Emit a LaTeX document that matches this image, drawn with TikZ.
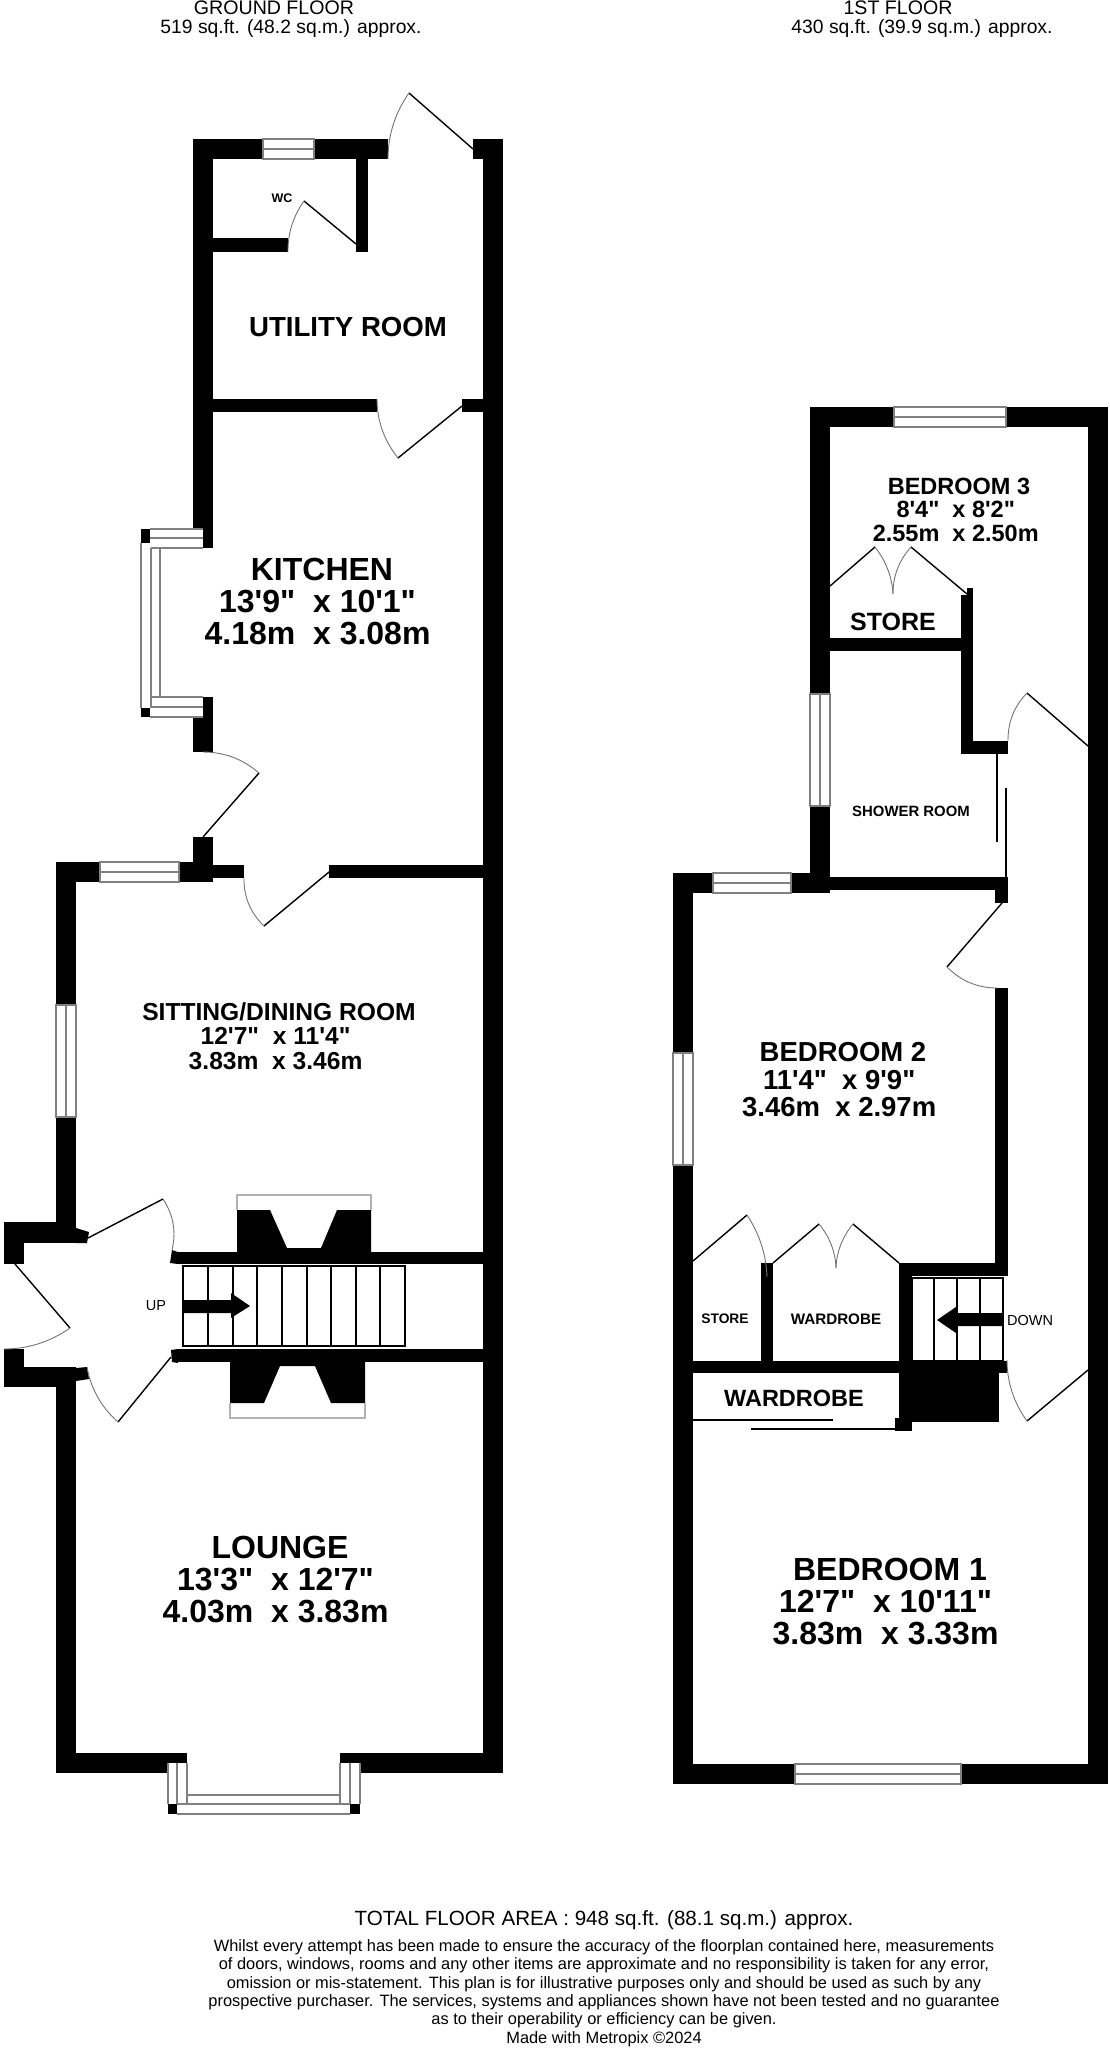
\documentclass[tikz,border=0pt]{standalone}
\usepackage{fontspec}
\setmainfont[Ligatures=TeXOff]{Liberation Sans}
\usetikzlibrary{calc}

% one door: hinge, leaf tip, end of the swing
\newcommand{\doorswing}[3]{%
  \draw[doorleaf] (#1) -- (#2);
  \coordinate (swing) at ($(#1) + .57*(#2) - .57*(#1) + .57*(#3) - .57*(#1)$);
  \draw[doorarc] (#2) .. controls ($(#2)!.667!(swing)$) and ($(#3)!.667!(swing)$) .. (#3);
}

\begin{document}
\begin{tikzpicture}[x=1pt,y=-1pt,
    wall/.style={fill=black},
    glass/.style={draw=black!50,line width=1.1pt},
    doorleaf/.style={draw=black,line width=1.4pt},
    doorarc/.style={draw=black!55,line width=.9pt},
    thinline/.style={draw=black,line width=1.1pt},
    room/.style={align=center,inner sep=0pt,font=\bfseries\fontsize{#1}{#1}\selectfont},
    plain/.style={align=center,inner sep=0pt,font=\fontsize{#1}{#1}\selectfont}]
  \useasboundingbox (0,0) rectangle (1110,2048);

  % Headings
  \node[plain=19.6] (groundname) at (274,8) {GROUND FLOOR};
  \node[plain=19.3] (groundarea) at (291,29) {519 sq.ft. (48.2 sq.m.) approx.};
  \node[plain=19.6] (firstname) at (898,8) {1ST FLOOR};
  \node[plain=19.3] (firstarea) at (922,29) {430 sq.ft. (39.9 sq.m.) approx.};

  % Ground floor, outer walls
  \fill[wall] (483,139) rectangle (503,1773);
  \fill[wall] (193,139) rectangle (263,159);
  \fill[wall] (314,139) rectangle (388,159);
  \fill[wall] (473,139) rectangle (483,159);
  \fill[wall] (193,139) rectangle (213,529);
  \fill[wall] (203,529) rectangle (213,548);
  \fill[wall] (203,697) rectangle (213,717);
  \fill[wall] (193,717) rectangle (213,752);
  \fill[wall] (193,837) rectangle (213,882);
  \fill[wall] (179,862) rectangle (213,882);
  \fill[wall] (56,862) rectangle (100,882);
  \fill[wall] (56,862) rectangle (76,1005);
  \fill[wall] (56,1117) rectangle (76,1243);
  \fill[wall] (56,1367) rectangle (76,1773);
  \fill[wall] (56,1753) rectangle (167,1773);
  \fill[wall] (167,1753) rectangle (187,1763);
  \fill[wall] (340,1753) rectangle (360,1763);
  \fill[wall] (360,1753) rectangle (503,1773);
  % Ground floor, inner walls
  \fill[wall] (356,159) rectangle (368,252);
  \fill[wall] (213,238) rectangle (288,252);
  \fill[wall] (213,399) rectangle (377,412);
  \fill[wall] (462,399) rectangle (483,412);
  \fill[wall] (213,865) rectangle (244,878);
  \fill[wall] (329,865) rectangle (483,878);
  % Porch
  \fill[wall] (4,1222) rectangle (76,1243);
  \fill[wall] (4,1222) rectangle (24,1264);
  \fill[wall] (4,1367) rectangle (76,1387);
  \fill[wall] (4,1349) rectangle (24,1387);
  \fill[wall] (76,1228) -- (89,1232) -- (87,1243) -- (76,1243) -- cycle;
  \fill[wall] (76,1368) -- (87,1367) -- (89,1379) -- (76,1381) -- cycle;
  \fill[wall] (172,1250) -- (178,1252) -- (178,1264) -- (170,1263) -- cycle;
  \fill[wall] (171,1350) -- (178,1349) -- (178,1363) -- (172,1362) -- cycle;
  % Stair walls and chimney breasts
  \fill[wall] (178,1252) rectangle (483,1264);
  \fill[wall] (178,1349) rectangle (483,1362);
  \fill[wall] (237,1210) -- (270,1210) -- (287,1248) -- (321,1248) -- (337,1210) -- (371,1210) -- (371,1252) -- (237,1252) -- cycle;
  \draw[glass,draw=black!30] (237,1210) -- (237,1195) -- (371,1195) -- (371,1210);
  \fill[wall] (230,1362) -- (365,1362) -- (365,1403) -- (331,1403) -- (315,1366) -- (280,1366) -- (264,1403) -- (230,1403) -- cycle;
  \draw[glass,draw=black!30] (230,1403) -- (230,1418) -- (365,1418) -- (365,1403);

  % Ground floor, windows
  \draw[glass] (263,139) rectangle (314,159) (263,149) -- (314,149);
  \draw[glass] (100,862) rectangle (179,882) (100,872) -- (179,872);
  \draw[glass] (56,1005) rectangle (76,1117) (66,1005) -- (66,1117);
  % Kitchen bay
  \fill[wall] (141,529) rectangle (150,543);
  \fill[wall] (141,708) rectangle (150,717);
  \draw[glass] (150,529) -- (203,529) (150,538) -- (203,538) (151,548) -- (203,548);
  \draw[glass] (151,697) -- (203,697) (150,707) -- (203,707) (150,717) -- (203,717);
  \draw[glass] (141,543) -- (141,708) (151,548) -- (151,707) (160,548) -- (160,697);
  % Lounge bay
  \fill[wall] (168,1804) rectangle (177,1814);
  \fill[wall] (350,1804) rectangle (360,1814);
  \draw[glass] (168,1763) -- (168,1804) (177,1763) -- (177,1804) (187,1763) -- (187,1804);
  \draw[glass] (340,1763) -- (340,1804) (350,1763) -- (350,1804) (360,1763) -- (360,1804);
  \draw[glass] (187,1795) -- (340,1795) (177,1804) -- (350,1804) (177,1814) -- (350,1814);

  % Ground floor, doors
  \doorswing{473,149}{409,93}{388,159}
  \doorswing{356,244}{304,201}{288,252}
  \doorswing{462,406}{398,458}{377,399}
  \doorswing{203,837}{259,773}{203,752}
  \doorswing{329,872}{264,926}{244,878}
  \doorswing{88,1238}{163,1199}{172,1250}
  \doorswing{171,1357}{118,1422}{87,1367}
  \doorswing{15,1264}{70,1328}{4,1349}

  % Stairs up
  \draw[thinline] (183,1266) rectangle (405,1346);
  \foreach \tread in {208,233,257,282,307,331,356,380}
    \draw[thinline] (\tread,1266) -- (\tread,1346);
  \fill[wall] (183,1300) -- (231,1300) -- (231,1293) -- (250,1306) -- (231,1318) -- (231,1313) -- (183,1313) -- cycle;
  \node[plain=14.5] (uplabel) at (156,1306) {UP};

  % Ground floor, rooms
  \node[room=12.5] (wc) at (282,198) {WC};
  \node[room=27.6] (utility) at (348,327) {UTILITY ROOM};
  \node[room=32] (kitchen) at (322,601) {KITCHEN\\13'9"~~x 10'1"\kern.278em\\4.18m~~x 3.08m\kern.278em};
  \node[room=24.6] (sitting) at (279,1036) {SITTING/DINING ROOM\\12'7"~~x 11'4"\kern.278em\\3.83m~~x 3.46m\kern.278em};
  \node[room=32] (lounge) at (280,1579) {LOUNGE\\13'3"~~x 12'7"\kern.278em\\4.03m~~x 3.83m\kern.278em};

  % First floor, outer walls
  \fill[wall] (1088,407) rectangle (1108,1784);
  \fill[wall] (810,407) rectangle (894,427);
  \fill[wall] (1006,407) rectangle (1108,427);
  \fill[wall] (810,407) rectangle (830,694);
  \fill[wall] (810,806) rectangle (830,893);
  \fill[wall] (791,873) rectangle (830,893);
  \fill[wall] (673,873) rectangle (713,893);
  \fill[wall] (673,873) rectangle (693,1053);
  \fill[wall] (673,1165) rectangle (693,1784);
  \fill[wall] (673,1764) rectangle (795,1784);
  \fill[wall] (961,1764) rectangle (1108,1784);
  % First floor, inner walls
  \fill[wall] (830,638) rectangle (961,651);
  \fill[wall] (961,595) rectangle (973,754);
  \fill[wall] (967,588) rectangle (973,595);
  \fill[wall] (961,741) rectangle (1008,754);
  \fill[wall] (830,877) rectangle (1008,890);
  \fill[wall] (995,877) rectangle (1008,903);
  \fill[wall] (995,988) rectangle (1008,1276);
  \fill[wall] (899,1263) rectangle (1008,1276);
  \fill[wall] (899,1263) rectangle (912,1431);
  \fill[wall] (761,1263) rectangle (773,1361);
  \fill[wall] (693,1361) rectangle (1007,1373);
  \fill[wall] (899,1373) rectangle (999,1422);
  \fill[wall] (895,1418) rectangle (912,1431);

  % First floor, windows
  \draw[glass] (894,407) rectangle (1006,427) (894,417) -- (1006,417);
  \draw[glass] (810,694) rectangle (830,806) (820,694) -- (820,806);
  \draw[glass] (713,873) rectangle (791,893) (713,883) -- (791,883);
  \draw[glass] (673,1053) rectangle (693,1165) (683,1053) -- (683,1165);
  \draw[glass] (795,1764) rectangle (961,1784) (795,1774) -- (961,1774);

  % First floor, doors
  \doorswing{830,586}{875,547}{893,594}
  \doorswing{967,594}{911,547}{893,594}
  \doorswing{1088,746}{1027,693}{1008,741}
  \doorswing{1002,903}{947,967}{997,988}
  \doorswing{693,1261}{747,1215}{767,1277}
  \doorswing{773,1263}{819,1224}{836,1268}
  \doorswing{899,1263}{853,1224}{836,1268}
  \doorswing{1088,1370}{1027,1421}{1007,1360}
  % Sliding doors
  \draw[thinline] (997,754) -- (997,842);
  \draw[thinline] (1006,788) -- (1006,877);
  \draw[thinline] (693,1420) -- (833,1420);
  \draw[thinline] (751,1429) -- (895,1429);

  % Stairs down
  \draw[thinline] (912,1278) rectangle (1003,1361);
  \foreach \tread in {934,957,980}
    \draw[thinline] (\tread,1278) -- (\tread,1361);
  \fill[wall] (1003,1313) -- (956,1313) -- (956,1307) -- (937,1320) -- (956,1333) -- (956,1326) -- (1003,1326) -- cycle;
  \node[plain=14.5,anchor=west] (downlabel) at (1007,1320) {DOWN};

  % First floor, rooms
  \node[room=23.5] (bedroomthree) at (959,509.5) {BEDROOM 3\\8'4"~~x 8'2"\kern.278em\\2.55m~~x 2.50m\kern.278em};
  \node[room=25] (storeupper) at (893,622) {STORE};
  \node[room=14.9] (shower) at (911,811) {SHOWER ROOM};
  \node[room=27.5] (bedroomtwo) at (843,1080) {BEDROOM 2\\11'4"~~x 9'9"\kern.278em\\3.46m~~x 2.97m\kern.278em};
  \node[room=13.8] (storelower) at (725,1319) {STORE};
  \node[room=15.2] (wardrobesmall) at (836,1319) {WARDROBE};
  \node[room=23.5] (wardrobelarge) at (794,1398) {WARDROBE};
  \node[room=32] (bedroomone) at (890,1601) {BEDROOM 1\\12'7"~~x 10'11"\kern.278em\\3.83m~~x 3.33m\kern.278em};

  % Footer
  \node[plain=20.6] (totalarea) at (604,1920) {TOTAL FLOOR AREA : 948 sq.ft. (88.1 sq.m.) approx.};
  \node[align=center,inner sep=0pt,font=\fontsize{16.4}{18.3}\selectfont] (disclaimer) at (604,1993) {Whilst every attempt has been made to ensure the accuracy of the floorplan contained here, measurements\\
    of doors, windows, rooms and any other items are approximate and no responsibility is taken for any error,\\
    omission or mis-statement. This plan is for illustrative purposes only and should be used as such by any\\
    prospective purchaser. The services, systems and appliances shown have not been tested and no guarantee\\
    as to their operability or efficiency can be given.\\
    Made with Metropix ©2024};
\end{tikzpicture}
\end{document}
